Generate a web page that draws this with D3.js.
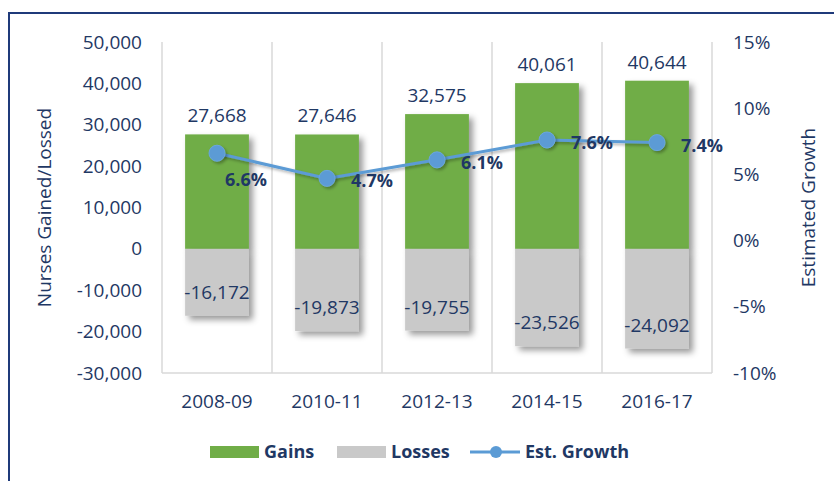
<!DOCTYPE html>
<html>
<head>
<meta charset="utf-8">
<script src="https://cdn.jsdelivr.net/npm/d3@7"></script>
<style>
  body { margin: 0; background: #fff; }
  text { font-family: "Open Sans", sans-serif; fill: #1f3864; }
</style>
</head>
<body>
<div id="chart"></div>
<script>
// data
const periods = ["2008-09", "2010-11", "2012-13", "2014-15", "2016-17"];
const gains = [27668, 27646, 32575, 40061, 40644];
const losses = [-16172, -19873, -19755, -23526, -24092];
const growth = [0.066, 0.047, 0.061, 0.076, 0.074];
const leftTicks = [50000, 40000, 30000, 20000, 10000, 0, -10000, -20000, -30000];
const rightTicks = [0.15, 0.10, 0.05, 0, -0.05, -0.10];

const W = 834, H = 481;
const plot = {left: 162, right: 712, top: 42, bottom: 373};

const navy = "#1f3864";
const green = "#70ad47";
const grey = "#c9c9c9";
const blue = "#5b9bd5";
const fs = "19px";

const svg = d3.select("#chart")
    .append("svg")
    .attr("width", W)
    .attr("height", H);

// drop shadow like the excel bars
const defs = svg.append("defs");
defs.append("filter")
    .attr("id", "shadow")
    .attr("x", "-20%").attr("y", "-20%")
    .attr("width", "150%").attr("height", "150%")
    .append("feDropShadow")
    .attr("dx", 4).attr("dy", 4)
    .attr("stdDeviation", 3)
    .attr("flood-color", "#000")
    .attr("flood-opacity", 0.4);
defs.append("filter")
    .attr("id", "shadowSmall")
    .attr("x", "-50%").attr("y", "-50%")
    .attr("width", "200%").attr("height", "200%")
    .append("feDropShadow")
    .attr("dx", 2).attr("dy", 2)
    .attr("stdDeviation", 1.5)
    .attr("flood-color", "#000")
    .attr("flood-opacity", 0.3);

// outer frame (only top and left show)
svg.append("rect")
    .attr("x", 9).attr("y", 13)
    .attr("width", 900).attr("height", 600)
    .attr("fill", "none")
    .attr("stroke", "#1f3a7a")
    .attr("stroke-width", 2);

// scales
const xCat = d3.scaleBand()
    .domain(periods)
    .range([plot.left, plot.right]);

const xBar = d3.scaleBand()
    .domain(periods)
    .range([plot.left, plot.right])
    .paddingInner(0.42)
    .paddingOuter(0.21);

const y = d3.scaleLinear()
    .domain([-30000, 50000])
    .range([plot.bottom, plot.top]);

const y2 = d3.scaleLinear()
    .domain([-0.10, 0.15])
    .range([plot.bottom, plot.top]);

const loc = d3.formatLocale({decimal: ".", thousands: ",", grouping: [3], currency: ["", ""], minus: "-"});
const fmtNum = loc.format(",");
const fmtPct = loc.format(".0%");
const fmtPct1 = loc.format(".1%");

// vertical gridlines between categories
const gridX = periods.map(p => xCat(p)).concat([plot.right]);
svg.append("g")
    .selectAll("line")
    .data(gridX)
    .join("line")
    .attr("x1", d => d).attr("x2", d => d)
    .attr("y1", plot.top).attr("y2", plot.bottom)
    .attr("stroke", "#d9d9d9")
    .attr("stroke-width", 1.5);

svg.append("line")
    .attr("x1", plot.left).attr("x2", plot.right)
    .attr("y1", plot.bottom).attr("y2", plot.bottom)
    .attr("stroke", "#d9d9d9")
    .attr("stroke-width", 1.5);

// axes
const leftAxis = d3.axisLeft(y).tickValues(leftTicks).tickFormat(fmtNum).tickSize(0).tickPadding(20);
svg.append("g")
    .attr("transform", "translate(" + plot.left + ",0)")
    .call(leftAxis)
    .call(g => g.select(".domain").remove())
    .selectAll("text")
    .style("font-size", fs)
    .style("font-family", "Open Sans")
    .attr("fill", navy);

const rightAxis = d3.axisRight(y2).tickValues(rightTicks).tickFormat(fmtPct).tickSize(0).tickPadding(21);
svg.append("g")
    .attr("transform", "translate(" + plot.right + ",0)")
    .call(rightAxis)
    .call(g => g.select(".domain").remove())
    .selectAll("text")
    .style("font-size", fs)
    .style("font-family", "Open Sans")
    .attr("fill", navy);

// category labels
svg.append("g")
    .selectAll("text")
    .data(periods)
    .join("text")
    .attr("x", d => xCat(d) + xCat.bandwidth() / 2)
    .attr("y", 408)
    .attr("text-anchor", "middle")
    .style("font-size", fs)
    .text(d => d);

// axis titles
svg.append("text")
    .attr("transform", "translate(51," + ((plot.top + plot.bottom) / 2) + ") rotate(-90)")
    .attr("text-anchor", "middle")
    .style("font-size", fs)
    .text("Nurses Gained/Lossed");

svg.append("text")
    .attr("transform", "translate(815," + ((plot.top + plot.bottom) / 2) + ") rotate(-90)")
    .attr("text-anchor", "middle")
    .style("font-size", fs)
    .text("Estimated Growth");

// bars
svg.append("g")
    .selectAll("rect")
    .data(periods)
    .join("rect")
    .attr("x", d => xBar(d))
    .attr("width", xBar.bandwidth())
    .attr("y", (d, i) => y(gains[i]))
    .attr("height", (d, i) => y(0) - y(gains[i]))
    .attr("fill", green)
    .attr("filter", "url(#shadow)");

svg.append("g")
    .selectAll("rect")
    .data(periods)
    .join("rect")
    .attr("x", d => xBar(d))
    .attr("width", xBar.bandwidth())
    .attr("y", y(0))
    .attr("height", (d, i) => y(losses[i]) - y(0))
    .attr("fill", grey)
    .attr("filter", "url(#shadow)");

// bar labels
svg.append("g")
    .selectAll("text")
    .data(periods)
    .join("text")
    .attr("x", d => xBar(d) + xBar.bandwidth() / 2)
    .attr("y", (d, i) => y(gains[i]) - 12)
    .attr("text-anchor", "middle")
    .style("font-size", fs)
    .text((d, i) => fmtNum(gains[i]));

svg.append("g")
    .selectAll("text")
    .data(periods)
    .join("text")
    .attr("x", d => xBar(d) + xBar.bandwidth() / 2)
    .attr("y", (d, i) => y(losses[i]) - 17)
    .attr("text-anchor", "middle")
    .style("font-size", fs)
    .text((d, i) => fmtNum(losses[i]));

// growth line
const cx = d => xCat(d) + xCat.bandwidth() / 2;
const line = d3.line()
    .x(d => cx(d))
    .y((d, i) => y2(growth[i]));

svg.append("path")
    .datum(periods)
    .attr("d", line)
    .attr("fill", "none")
    .attr("stroke", blue)
    .attr("stroke-width", 3)
    .attr("filter", "url(#shadowSmall)");

svg.append("g")
    .selectAll("circle")
    .data(periods)
    .join("circle")
    .attr("cx", d => cx(d))
    .attr("cy", (d, i) => y2(growth[i]))
    .attr("r", 8)
    .attr("fill", blue)
    .attr("stroke", "#6aa6dc")
    .attr("stroke-width", 1)
    .attr("filter", "url(#shadowSmall)");

// growth labels, right of the point (first one sits below)
svg.append("g")
    .selectAll("text")
    .data(periods)
    .join("text")
    .attr("x", (d, i) => cx(d) + (i === 0 ? 8 : 24))
    .attr("y", (d, i) => y2(growth[i]) + (i === 0 ? 33 : 9))
    .style("font-size", "18px")
    .style("font-weight", "bold")
    .text((d, i) => fmtPct1(growth[i]));

// legend
const legend = svg.append("g");
legend.append("rect")
    .attr("x", 210).attr("y", 446)
    .attr("width", 49).attr("height", 12)
    .attr("fill", green);
legend.append("text")
    .attr("x", 264).attr("y", 458)
    .style("font-size", "18px").style("font-weight", "bold")
    .text("Gains");
legend.append("rect")
    .attr("x", 337).attr("y", 446)
    .attr("width", 49).attr("height", 12)
    .attr("fill", grey);
legend.append("text")
    .attr("x", 391).attr("y", 458)
    .style("font-size", "18px").style("font-weight", "bold")
    .text("Losses");
legend.append("line")
    .attr("x1", 470).attr("x2", 520)
    .attr("y1", 452).attr("y2", 452)
    .attr("stroke", blue).attr("stroke-width", 3);
legend.append("circle")
    .attr("cx", 496).attr("cy", 452).attr("r", 6)
    .attr("fill", blue);
legend.append("text")
    .attr("x", 525).attr("y", 458)
    .style("font-size", "18px").style("font-weight", "bold")
    .text("Est. Growth");
</script>
</body>
</html>
